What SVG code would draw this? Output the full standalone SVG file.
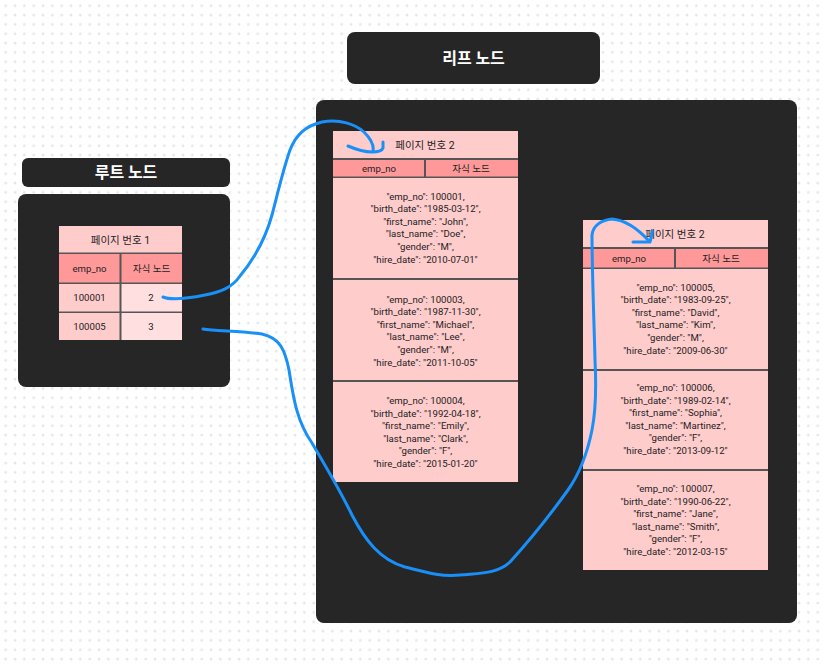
<svg xmlns="http://www.w3.org/2000/svg" width="822" height="665" viewBox="0 0 822 665">
<defs>
<pattern id="dots" patternUnits="userSpaceOnUse" x="1" y="1" width="9.3333" height="9.3333">
<circle cx="4.6667" cy="4.6667" r="1.4" fill="#e6e6e6"/>
</pattern>
<style>
.panel{fill:#262626}
.title{font-family:Inter,"Noto Sans CJK KR",sans-serif;font-size:16px;font-weight:bold;fill:#ffffff;text-anchor:middle}
.grid{fill:#555555}
.pk{fill:#ffcccc}
.hd{fill:#ff9999}
.lt{fill:#ffdfdf}
.t{font-family:Roboto,"Noto Sans CJK KR",sans-serif;font-size:9.6px;fill:#222222;text-anchor:middle}
.tt{font-family:Roboto,"Noto Sans CJK KR",sans-serif;font-size:10.5px;fill:#222222;text-anchor:middle}
.conn{fill:none;stroke:#1890f8;stroke-width:3;stroke-linecap:round;stroke-linejoin:round}
</style>
</defs>
<rect width="822" height="665" fill="#ffffff"/>
<rect width="822" height="665" fill="url(#dots)"/>

<g id="root-title">
<rect class="panel" x="22" y="158" width="208" height="29" rx="6"/>
<text class="title" x="126" y="178">루트 노드</text>
</g>

<g id="root-node">
<rect class="panel" x="18" y="194" width="212" height="193" rx="8"/>
<rect class="grid" x="59" y="226" width="123" height="114"/>
<rect class="pk" x="59" y="226" width="123" height="26.5"/>
<rect class="hd" x="59" y="254" width="60.5" height="28.5"/>
<rect class="hd" x="121.5" y="254" width="60.5" height="28.5"/>
<rect class="pk" x="59" y="284" width="60.5" height="27.5"/>
<rect class="lt" x="121.5" y="284" width="60.5" height="27.5"/>
<rect class="pk" x="59" y="313" width="60.5" height="27"/>
<rect class="lt" x="121.5" y="313" width="60.5" height="27"/>
<text class="tt" x="120.5" y="243.5">페이지 번호 1</text>
<text class="t" x="89.5" y="271.5">emp_no</text>
<text class="t" x="151.5" y="271.5">자식 노드</text>
<text class="t" x="89.5" y="301">100001</text>
<text class="t" x="151" y="301">2</text>
<text class="t" x="89.5" y="330">100005</text>
<text class="t" x="151" y="330">3</text>
</g>

<g id="leaf-title">
<rect class="panel" x="347" y="32" width="253" height="52" rx="8"/>
<text class="title" x="473.5" y="64">리프 노드</text>
</g>

<g id="leaf-panel">
<rect class="panel" x="316" y="100" width="481" height="523" rx="8"/>
</g>

<g id="leaf-page-left">
<rect class="grid" x="333" y="131" width="185" height="351"/>
<rect class="pk" x="333" y="131" width="185" height="27"/>
<rect class="hd" x="333" y="160" width="91" height="16.5"/>
<rect class="hd" x="426" y="160" width="92" height="16.5"/>
<rect class="pk" x="333" y="178" width="185" height="100"/>
<rect class="pk" x="333" y="280" width="185" height="100"/>
<rect class="pk" x="333" y="382" width="185" height="100"/>
<text class="tt" x="425" y="149">페이지 번호 2</text>
<text class="t" x="379" y="171.5">emp_no</text>
<text class="t" x="471" y="171.5">자식 노드</text>
<g class="t">
<text x="425.5" y="199.5">"emp_no": 100001,</text>
<text x="425.5" y="212.1">"birth_date": "1985-03-12",</text>
<text x="425.5" y="224.7">"first_name": "John",</text>
<text x="425.5" y="237.3">"last_name": "Doe",</text>
<text x="425.5" y="249.9">"gender": "M",</text>
<text x="425.5" y="262.5">"hire_date": "2010-07-01"</text>
</g>
<g class="t">
<text x="425.5" y="302.5">"emp_no": 100003,</text>
<text x="425.5" y="315.1">"birth_date": "1987-11-30",</text>
<text x="425.5" y="327.7">"first_name": "Michael",</text>
<text x="425.5" y="340.3">"last_name": "Lee",</text>
<text x="425.5" y="352.9">"gender": "M",</text>
<text x="425.5" y="365.5">"hire_date": "2011-10-05"</text>
</g>
<g class="t">
<text x="425.5" y="404">"emp_no": 100004,</text>
<text x="425.5" y="416.6">"birth_date": "1992-04-18",</text>
<text x="425.5" y="429.2">"first_name": "Emily",</text>
<text x="425.5" y="441.8">"last_name": "Clark",</text>
<text x="425.5" y="454.4">"gender": "F",</text>
<text x="425.5" y="467">"hire_date": "2015-01-20"</text>
</g>
</g>

<g id="leaf-page-right">
<rect class="grid" x="583" y="220" width="185" height="350"/>
<rect class="pk" x="583" y="220" width="185" height="27"/>
<rect class="hd" x="583" y="249" width="91" height="18.5"/>
<rect class="hd" x="676" y="249" width="92" height="18.5"/>
<rect class="pk" x="583" y="269" width="185" height="100"/>
<rect class="pk" x="583" y="371" width="185" height="98"/>
<rect class="pk" x="583" y="471" width="185" height="99"/>
<text class="tt" x="675" y="238">페이지 번호 2</text>
<text class="t" x="629" y="261.5">emp_no</text>
<text class="t" x="721" y="261.5">자식 노드</text>
<g class="t">
<text x="675.5" y="290.5">"emp_no": 100005,</text>
<text x="675.5" y="303.1">"birth_date": "1983-09-25",</text>
<text x="675.5" y="315.7">"first_name": "David",</text>
<text x="675.5" y="328.3">"last_name": "Kim",</text>
<text x="675.5" y="340.9">"gender": "M",</text>
<text x="675.5" y="353.5">"hire_date": "2009-06-30"</text>
</g>
<g class="t">
<text x="675.5" y="391">"emp_no": 100006,</text>
<text x="675.5" y="403.6">"birth_date": "1989-02-14",</text>
<text x="675.5" y="416.2">"first_name": "Sophia",</text>
<text x="675.5" y="428.8">"last_name": "Martinez",</text>
<text x="675.5" y="441.4">"gender": "F",</text>
<text x="675.5" y="454">"hire_date": "2013-09-12"</text>
</g>
<g class="t">
<text x="675.5" y="492">"emp_no": 100007,</text>
<text x="675.5" y="504.6">"birth_date": "1990-06-22",</text>
<text x="675.5" y="517.2">"first_name": "Jane",</text>
<text x="675.5" y="529.8">"last_name": "Smith",</text>
<text x="675.5" y="542.4">"gender": "F",</text>
<text x="675.5" y="555">"hire_date": "2012-03-15"</text>
</g>
</g>

<g id="connectors">
<path class="conn" d="M163,297 C170,300 185,299 205,295 C220,292 232,288 240,276 C255,258 265,240 272,215 C278,192 283,170 290,150 C296,135 305,126 322,122 C340,119 355,124 364,132 C372,140 374,146 373,151"/>
<path class="conn" d="M348,146 C355,149 363,152 372,152 C378,152 382,151 383,148 L383,142"/>
<path class="conn" d="M203,329 C215,331 245,331 262,334 C280,338 285,350 289,370 C293,395 296,420 312,443 C325,465 340,490 352,515 C365,540 380,560 405,567 C425,572 440,577 460,575 C480,573 497,574 510,562 C530,540 550,515 568,490 C582,470 588,450 592,430 C596,410 596,380 595,360 C594,320 592,270 592,235 C593,225 602,220 612,219 C625,220 638,229 649,241"/>
<path class="conn" d="M633,242 L650,242 M650,242 C651,238 652,235 652,231"/>
</g>
</svg>
